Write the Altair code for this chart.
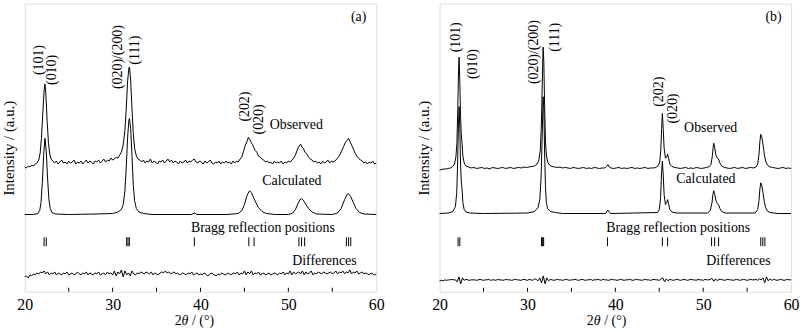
import altair as alt
import pandas as pd

FONT = "Liberation Serif"

# ---------------- Panel (a) ----------------
a_obs_x = [20.0,20.2,20.4,20.6,20.8,21.0,21.2,21.4,21.6,21.75,21.9,22.05,22.2,22.3,22.4,22.55,22.7,22.85,23.0,23.2,
           23.4,23.6,23.8,24.0,24.2,24.4,24.6,24.8,25.0,25.2,25.4,25.6,25.8,26.0,26.2,26.4,26.6,26.8,27.0,27.2,
           27.4,27.6,27.8,28.0,28.2,28.4,28.6,28.8,29.0,29.2,29.4,29.6,29.8,30.0,30.2,30.4,30.6,30.8,31.0,31.2,
           31.4,31.55,31.7,31.85,31.92,32.05,32.2,32.35,32.5,32.7,32.9,33.1,33.3,33.5,33.7,33.9,34.1,34.3,34.5,34.7,
           34.9,35.1,35.3,35.5,35.7,35.9,36.1,36.3,36.5,36.7,36.9,37.1,37.3,37.5,37.7,37.9,38.1,38.3,38.5,38.7,
           38.9,39.1,39.3,39.5,39.7,39.9,40.1,40.3,40.5,40.7,40.9,41.1,41.3,41.5,41.7,41.9,42.1,42.3,42.5,42.7,
           42.9,43.1,43.3,43.5,43.7,43.9,44.1,44.3,44.5,44.7,44.9,45.1,45.3,45.45,45.6,45.75,45.9,46.05,46.2,46.4,
           46.6,46.8,47.0,47.2,47.4,47.6,47.8,48.0,48.2,48.4,48.6,48.8,49.0,49.2,49.4,49.6,49.8,50.0,50.2,50.4,
           50.6,50.8,51.0,51.2,51.4,51.55,51.7,51.9,52.1,52.3,52.5,52.7,52.9,53.1,53.3,53.5,53.7,53.9,54.1,54.3,
           54.5,54.7,54.9,55.1,55.3,55.5,55.7,55.9,56.1,56.3,56.5,56.7,56.85,57.0,57.2,57.4,57.6,57.8,58.0,58.2,
           58.4,58.6,58.8,59.0,59.2,59.4,59.6,59.8,60.0]
a_obs_y = [126,125,127,126,128,127,129,130,133,140,155,180,203,210,200,172,150,139,134,132,
           130,132,129,131,133,130,131,129,132,130,131,133,129,131,130,132,129,131,133,130,
           132,131,129,132,131,133,130,132,134,131,133,132,135,133,134,136,135,138,141,148,
           163,185,212,226,227,214,185,160,145,137,134,133,131,133,130,132,131,134,130,132,
           131,129,132,131,133,130,132,134,131,133,130,132,131,129,132,130,131,133,130,132,
           131,133,134,131,130,132,131,129,132,130,131,133,130,129,131,130,132,129,131,130,
           132,130,131,129,132,130,132,131,134,136,142,148,152,156,154,151,149,146,143,141,
           137,136,134,133,131,132,130,131,129,132,130,131,130,132,129,131,130,132,131,133,
           135,138,143,147,149,146,145,141,139,136,134,133,131,132,130,131,129,132,130,131,
           133,130,132,131,132,134,136,139,143,147,151,153,155,152,148,144,140,137,135,133,
           132,130,131,129,131,130,132,129,130]

a_calc_x = [20.0,21.0,21.5,21.7,21.85,22.0,22.15,22.3,22.45,22.6,22.75,22.9,23.1,23.5,25.0,28.0,30.0,30.6,31.0,31.2,
            31.4,31.55,31.7,31.85,31.92,32.05,32.2,32.35,32.5,32.7,33.0,33.5,34.5,39.0,39.3,39.6,43.0,44.3,44.7,45.0,
            45.25,45.5,45.6,45.8,46.0,46.3,46.6,47.0,47.5,48.5,50.0,50.5,50.8,51.1,51.35,51.5,51.7,52.0,52.3,52.7,
            53.2,55.0,55.6,56.0,56.4,56.7,56.85,57.1,57.4,57.7,58.1,58.6,60.0]
a_calc_y = [78,78,79,82,90,110,138,155,142,114,93,84,80,78.5,78,78.5,79,80.5,83,88,
            102,125,155,173,175,165,138,108,92,84,80.5,79,78,78,79.5,78,78,79,82,88,
            96,101,102,100,96,90,85,81,79,78,78,79.5,83,89,93.5,94,92.5,88,84,80.5,
            78.5,78,79.5,84,93,98.5,99,96,90,84,80,78.5,78]

DIFF_START, DIFF_STEP = 20.0, 0.2
a_diff_y = [15,16,14,17,16,18,17,19,18,20,19,21,18,20,17,19,18,20,17,19,
            18,17,19,18,20,17,18,19,17,18,20,18,17,19,18,20,17,19,18,17,
            19,18,20,17,18,19,17,20,18,19,17,21,16,20,18,22,15,21,17,19,
            16,21,18,17,19,18,20,19,18,20,19,18,20,17,19,18,17,19,20,19,
            21,19,20,18,19,20,18,19,17,18,19,18,17,19,18,20,17,18,19,17,
            18,17,19,18,16,17,19,18,17,16,18,17,19,18,17,18,19,17,18,19,
            18,20,17,19,18,21,17,20,18,21,17,19,18,20,17,18,19,17,18,19,
            17,18,19,18,17,19,18,20,17,19,18,21,17,20,18,19,20,18,21,17,
            20,18,19,21,17,19,18,20,19,18,20,19,18,19,20,18,19,21,18,20,
            19,21,18,20,19,22,18,20,19,21,18,19,20,18,19,18,17,19,18,17,
            18]

a_bragg = [22.2,22.45,31.6,31.75,31.9,39.3,45.5,46.1,51.2,51.5,51.85,56.6,56.85,57.1]

a_peak_text = ["(101)","(010)","(020)/(200)","(111)","(202)","(020)"]
a_peak_x = [21.6,23.1,30.6,32.55,45.07,46.65]
a_peak_y = [234,224,237,244,187,174]

a_lab_text = ["Observed","Calculated","Bragg reflection positions","Differences","(a)"]
a_lab_x = [50.9,50.4,47.1,54.1,58.0]
a_lab_y = [168,112,64,31,277]

# ---------------- Panel (b) ----------------
b_obs_x = [20.0,20.25,20.5,20.75,21.0,21.25,21.5,21.7,21.85,21.97,22.07,22.15,22.22,22.3,22.38,22.46,22.55,22.65,22.8,23.0,
           23.3,23.6,23.9,24.2,24.5,24.8,25.1,25.4,25.7,26.0,26.3,26.6,26.9,27.2,27.5,27.8,28.1,28.4,28.7,29.0,
           29.3,29.6,29.9,30.2,30.5,30.8,31.1,31.3,31.45,31.57,31.68,31.78,31.86,31.95,32.05,32.15,32.3,32.5,32.8,33.1,
           33.4,33.7,34.0,34.3,34.6,34.9,35.2,35.5,35.8,36.1,36.4,36.7,37.0,37.3,37.6,37.9,38.2,38.5,38.8,39.0,
           39.15,39.3,39.5,39.8,40.1,40.4,40.7,41.0,41.3,41.6,41.9,42.2,42.5,42.8,43.1,43.4,43.7,44.0,44.3,44.6,
           44.85,45.05,45.17,45.27,45.35,45.45,45.55,45.7,45.85,45.95,46.05,46.2,46.45,46.8,47.1,47.4,47.7,48.0,48.3,48.6,
           48.9,49.2,49.5,49.8,50.1,50.4,50.7,50.9,51.05,51.13,51.2,51.3,51.45,51.6,51.75,51.9,52.1,52.4,52.7,53.0,
           53.3,53.6,53.9,54.2,54.5,54.8,55.1,55.4,55.7,56.0,56.2,56.35,56.45,56.55,56.65,56.8,56.95,57.1,57.3,57.6,
           57.9,58.2,58.5,58.8,59.1,59.4,59.7,60.0]
b_obs_y = [123,123.5,124,124,124.5,125,126.5,129,136,150,185,222,237,212,178,160,150,137,130,127,
           126,125,125.5,124.5,125,125.5,124.5,125,124,125.5,125,124.5,125,125.5,124.5,125,125.5,124.5,125,125.5,
           125,126,125.5,126,126.5,127,129,133,142,165,210,247,232,188,152,138,131,128,126.5,126,
           125.5,126,125,125.5,125,124.5,125.5,125,124.5,125,125.5,124.5,125,124.5,125.5,125,124.5,125,125,126.5,
           128.5,126,125,124.5,125,125.5,124.5,125,124.5,125,125.5,124.5,125,124.5,125,125.5,124.5,125,125,125.5,
           127,131,143,165,180,164,145,135,136,139,135,129,126.5,125.5,125,124.5,125,125.5,124.5,125,
           124.5,125.5,125,124.5,125,125.5,126.5,129,138,146,150,146,138,135,134,130,127,125.5,125,124.5,
           125,125.5,124.5,125,125.5,124.5,125,125.5,125,126,129,139,152,159,157,149,139,132,128,126,
           125.5,125,124.5,125,125.5,124.5,125,124.5]

b_calc_x = [20.0,21.0,21.5,21.8,21.95,22.05,22.15,22.22,22.3,22.38,22.46,22.55,22.65,22.8,23.0,23.5,25.0,30.0,30.8,31.2,
            31.4,31.55,31.68,31.78,31.86,31.95,32.05,32.15,32.3,32.6,33.2,34.0,38.9,39.05,39.15,39.3,39.5,44.8,45.0,45.15,
            45.25,45.35,45.45,45.55,45.7,45.85,45.95,46.05,46.2,46.45,47.0,50.5,50.8,51.0,51.1,51.2,51.3,51.45,51.6,51.75,
            51.9,52.1,52.5,55.9,56.2,56.35,56.45,56.55,56.65,56.8,56.95,57.1,57.3,57.6,58.5,60.0]
b_calc_y = [79,79.5,81,86,100,130,170,187,165,130,112,104,90,83,80.5,79.5,79,79.5,81,85,
            93,115,160,197,185,140,105,90,84,81,80,79,79,81.5,82.5,80.5,79,80,83,95,
            118,132,118,98,88,90,93,89,83,80.5,79.5,79.5,82,90,98,102,99,92,89,88,
            84,81,79.5,79.5,83,92,104,110,108,100,91,85,81.5,80,79,79]

b_diff_y = [11,11.5,11,12,11.5,12,12,12.5,12,12,10,15,8,14,11.5,12.5,12,11.5,12,12,
            12,11.5,12,12.5,12,11.5,12,12,12.5,11.5,12,12,11.5,12.5,12,12,11.5,12,12.5,12,
            12,11.5,12,12.5,12,12,11.5,12,12.5,12,11.5,12.5,12,11.5,13,12.5,11,14,9,16,
            8,14,11,12.5,12,11.5,12,12.5,12,12,11.5,12,12.5,12,11.5,12,12,12.5,12,11.5,
            12,12.5,12,11.5,12,12,12.5,11.5,12,12,12.5,12,11.5,12.5,12,12,11.5,12,12.5,12,
            12,11.5,12,12.5,12,11.5,12,12,12.5,12,11.5,12,12.5,12,12,11.5,12,12.5,12,12,
            11.5,12,12.5,12,12,11.5,13,14,10,13,11,12.5,12,11.5,12,12.5,12,11.5,12,12.5,
            12,11.5,12,12.5,12,12,11.5,12.5,12,12,11.5,12.5,12,12,12.5,13.5,10.5,13,11,12.5,
            12.5,12,11.5,12,12.5,12,12,11.5,12,12.5,12,11.5,12,12.5,12,11.5,12,12.5,12,12,
            12.5,11.5,13,12,14,9,15,11,13,11.5,12.5,12,11.5,12,12.5,12,11.5,12,12.5,12,
            12]

b_bragg = [22.1,22.3,31.6,31.72,31.84,39.1,45.35,45.95,50.95,51.3,51.75,56.55,56.78,57.02]

b_peak_text = ["(101)","(010)","(020)/(200)","(111)","(202)","(020)"]
b_peak_x = [21.9,23.8,30.75,33.15,45.0,46.6]
b_peak_y = [257,230,242,257,202,185]

b_lab_text = ["Observed","Calculated","Bragg reflection positions","Differences","(b)"]
b_lab_x = [50.85,50.3,47.15,54.0,58.0]
b_lab_y = [165,114,64,31,277]

minor_ticks = [25,30,35,40,45,50,55]
major_ticks = [20,30,40,50,60]
bragg_lo, bragg_hi = 46, 55
tick_len = 4
YMAX = 291


def X():
    return alt.X("x:Q", scale=alt.Scale(domain=[20, 60], nice=False, zero=False),
                 axis=alt.Axis(values=major_ticks, format="d", labelFont=FONT, labelFontSize=16,
                               labelColor="black", ticks=False, tickSize=0, domain=False, grid=False,
                               labelPadding=5, title=None, labelFlush=False))


def Y():
    return alt.Y("y:Q", scale=alt.Scale(domain=[0, YMAX], nice=False, zero=False),
                 axis=alt.Axis(labels=False, ticks=False, domain=False, grid=False,
                               title="Intensity / (a.u.)", titleFont=FONT, titleFontSize=15,
                               titleFontWeight="normal", titleColor="black", titlePadding=8))


def panel(obs_x, obs_y, calc_x, calc_y, diff_y, bragg, pk_t, pk_x, pk_y, lb_t, lb_x, lb_y, title_x):
    obs = pd.DataFrame({"x": obs_x, "y": obs_y})
    calc = pd.DataFrame({"x": calc_x, "y": calc_y})
    diff = pd.DataFrame({"x": [DIFF_START + DIFF_STEP * i for i in range(len(diff_y))], "y": diff_y})
    br = pd.DataFrame({"x": bragg, "y": [bragg_lo] * len(bragg), "y2": [bragg_hi] * len(bragg)})
    tk = pd.DataFrame({"x": minor_ticks, "y": [0] * len(minor_ticks), "y2": [tick_len] * len(minor_ticks)})
    pk = pd.DataFrame({"x": pk_x, "y": pk_y, "t": pk_t})
    lb = pd.DataFrame({"x": lb_x, "y": lb_y, "t": lb_t})
    ttl = pd.DataFrame({"x": [title_x], "y": [-30]})

    line = lambda d: alt.Chart(d).mark_line(color="black", strokeWidth=1).encode(x=X(), y=Y())
    rules = lambda d: alt.Chart(d).mark_rule(color="black", strokeWidth=1).encode(x=X(), y=Y(), y2="y2:Q")
    peaks = alt.Chart(pk).mark_text(angle=270, font=FONT, fontSize=14, color="black",
                                    align="center", baseline="middle").encode(x=X(), y=Y(), text="t:N")
    labs = alt.Chart(lb).mark_text(font=FONT, fontSize=14, color="black",
                                   align="center", baseline="middle").encode(x=X(), y=Y(), text="t:N")
    t1 = alt.Chart(ttl).mark_text(text="2", font=FONT, fontSize=14, color="black", align="left",
                                  baseline="middle", dx=-19).encode(x=X(), y=Y())
    t2 = alt.Chart(ttl).mark_text(text="θ", font=FONT, fontSize=14, fontStyle="italic", color="black",
                                  align="left", baseline="middle", dx=-12).encode(x=X(), y=Y())
    t3 = alt.Chart(ttl).mark_text(text="/ (°)", font=FONT, fontSize=14, color="black", align="left",
                                  baseline="middle", dx=-1.5).encode(x=X(), y=Y())
    return alt.layer(line(obs), line(calc), line(diff), rules(br), rules(tk),
                     peaks, labs, t1, t2, t3).properties(width=355, height=YMAX)


pa = panel(a_obs_x, a_obs_y, a_calc_x, a_calc_y, a_diff_y, a_bragg,
           a_peak_text, a_peak_x, a_peak_y, a_lab_text, a_lab_x, a_lab_y, 39.2)
pb = panel(b_obs_x, b_obs_y, b_calc_x, b_calc_y, b_diff_y, b_bragg,
           b_peak_text, b_peak_x, b_peak_y, b_lab_text, b_lab_x, b_lab_y, 38.9)

chart = alt.hconcat(pa, pb, spacing=31).properties(
    padding={"left": 1, "top": 1, "right": 0, "bottom": 0}
).configure_view(stroke="black", strokeWidth=1).configure(background="white")

chart.save("out.html", embed_options={"renderer": "svg", "actions": False})
